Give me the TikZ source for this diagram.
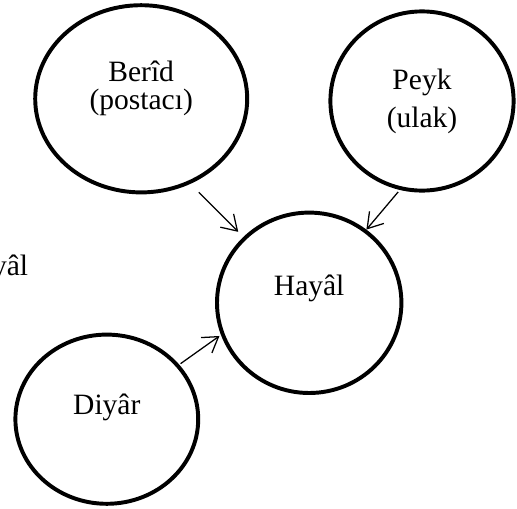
\documentclass[tikz,border=0pt]{standalone}
\usepackage{fontspec}
\setmainfont{Liberation Serif}
\usetikzlibrary{shapes.geometric,arrows.meta}

\begin{document}
\begin{tikzpicture}[
    ring/.style={ellipse,draw,line width=2.8pt,inner sep=0pt},
    link/.style={-{Straight Barb[length=0.37cm,width=0.47cm]},line width=0.9pt},
    every label/.style={font=\fontsize{21}{20}\selectfont,align=center}
]
\useasboundingbox (0,0) rectangle (12.925,-12.725);
% the four circles
\node[ring,minimum width=5.3cm,minimum height=4.68cm,
      label={[yshift=0.265cm]center:Berîd\\(postacı)}] (berid) at (3.53,-2.47) {};
\node[ring,minimum width=4.58cm,minimum height=4.48cm,
      label={[yshift=-0.015cm]center:Peyk\\[0.25cm](ulak)}] (peyk) at (10.55,-2.525) {};
\node[ring,minimum width=4.61cm,minimum height=4.51cm,
      label={[yshift=0.36cm]center:Hayâl}] (hayal) at (7.73,-7.57) {};
\node[ring,minimum width=4.57cm,minimum height=4.23cm,
      label={[yshift=0.3cm]center:Diyâr}] (diyar) at (2.67,-10.48) {};
% cut text on the left edge
\node[font=\fontsize{21}{20}\selectfont,anchor=base east,inner sep=0pt] (kenar) at (0.71,-6.875) {Hayâl};
% arrows into Hayal
\draw[link,shorten <=0.3cm,shorten >=0.18cm] (berid.-60) -- (hayal.135);
\draw[link,shorten <=0.065cm] (peyk.-104) -- (hayal.52);
\draw[link,shorten <=0.04cm,shorten >=0.045cm] (diyar.37) -- (hayal.-160);
\end{tikzpicture}
\end{document}
